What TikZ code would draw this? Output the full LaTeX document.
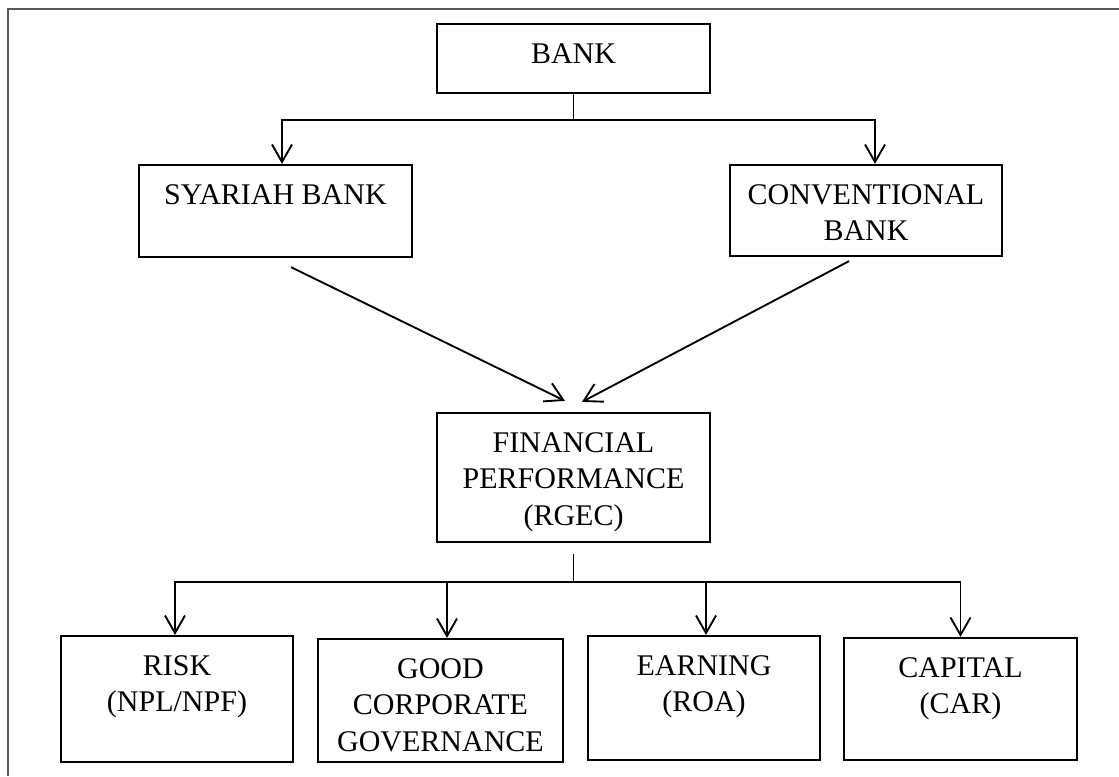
\documentclass[tikz,border=0pt]{standalone}
\usepackage{fontspec}
\setmainfont{Liberation Serif}
\usetikzlibrary{arrows.meta,positioning}

\definecolor{framegray}{RGB}{89,89,89}

\tikzset{
  box/.style 2 args={draw, line width=0.9pt, minimum width=#1*0.4pt, minimum height=#2*0.4pt, inner sep=0pt},
  txt/.style={anchor=north, align=center, inner sep=0pt, font=\fontsize{12pt}{14.6pt}\selectfont},
  conn/.style={line width=0.75pt},
  arr/.style={conn, -{Straight Barb[length=7pt,width=8pt,line width=0.75pt]}},
}

\begin{document}
\begin{tikzpicture}[x=0.4pt, y=-0.4pt]
\useasboundingbox (0,0) rectangle (1119,776);

% Frame (only the top and left edges are on the page)
\draw[framegray, line width=0.8pt] (8,776) -- (8,9) -- (1119,9);

% Boxes, text hangs from the top edge
\node[box={273}{69}] (bank) at (573.5,58.5) {};
\node[txt, below=8pt of bank.north] (bankT) {BANK};
\node[box={273}{92}] (syariah) at (275.5,211) {};
\node[txt, below=8pt of syariah.north] (syariahT) {SYARIAH BANK};
\node[box={272}{91}] (conv) at (866,210.5) {};
\node[txt, below=8pt of conv.north] (convT) {CONVENTIONAL\\BANK};
\node[box={273}{129}] (fin) at (573.5,477.5) {};
\node[txt, below=8pt of fin.north] (finT) {FINANCIAL\\PERFORMANCE\\(RGEC)};

\node[box={232}{126}] (risk) at (177,699) {};
\node[txt, below=8pt of risk.north] (riskT) {RISK\\(NPL/NPF)};
\node[box={245}{123}] (gcg) at (440.5,700.5) {};
\node[txt, below=8pt of gcg.north] (gcgT) {GOOD\\CORPORATE\\GOVERNANCE};
\node[box={232}{124}] (earn) at (704,698) {};
\node[txt, below=8pt of earn.north] (earnT) {EARNING\\(ROA)};
\node[box={233}{122}] (cap) at (960.5,699) {};
\node[txt, below=8pt of cap.north] (capT) {CAPITAL\\(CAR)};

% Bank splits into the two kinds
\coordinate (bsplit) at (573.5,120);
\draw[conn] (bank.south) -- (bsplit);
\draw[arr] (bsplit) -| ([xshift=2.6pt]syariah.north);
\draw[arr] (bsplit) -| ([xshift=3.6pt]conv.north);

% Both feed the performance box
\draw[arr] ([shift={(15.5,9)}]syariah.south) -- ([shift={(-8.5,-11)}]fin.north);
\draw[arr] ([shift={(-17,4)}]conv.south) -- ([shift={(8.5,-10)}]fin.north);

% RGEC parts
\coordinate (fsplit) at (573.5,582);
\draw[conn] ([yshift=-4.4pt]fin.south) -- (fsplit);
\draw[arr] (fsplit) -| ([xshift=-0.8pt]risk.north);
\draw[arr] (fsplit) -| ([xshift=2.6pt]gcg.north);
\draw[arr] (fsplit) -| ([xshift=0.8pt]earn.north);
\draw[arr] (fsplit) -| (cap.north);
\end{tikzpicture}
\end{document}
